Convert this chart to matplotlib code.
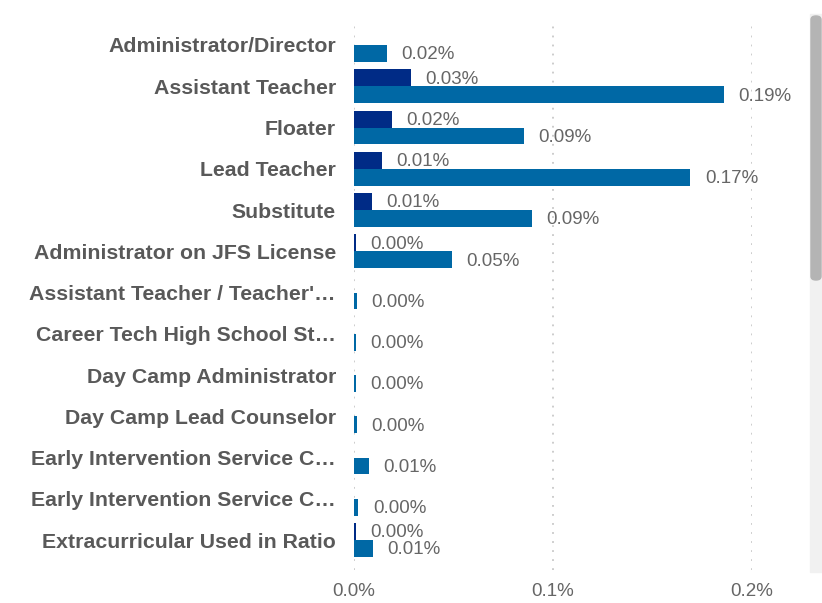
import matplotlib
matplotlib.use("Agg")
import matplotlib.pyplot as plt
import numpy as np
from matplotlib.patches import FancyBboxPatch, Rectangle
from matplotlib.ticker import FuncFormatter

plt.rcParams["font.family"] = ["Liberation Sans", "DejaVu Sans"]

categories = [
    "Administrator/Director",
    "Assistant Teacher",
    "Floater",
    "Lead Teacher",
    "Substitute",
    "Administrator on JFS License",
    "Assistant Teacher / Teacher'\u2026",
    "Career Tech High School St\u2026",
    "Day Camp Administrator",
    "Day Camp Lead Counselor",
    "Early Intervention Service C\u2026",
    "Early Intervention Service C\u2026",
    "Extracurricular Used in Ratio",
]
# values in percent (nan = no bar)
series_dark = [np.nan, 0.0287, 0.019, 0.014, 0.009, 0.0008, np.nan, np.nan,
               np.nan, np.nan, np.nan, np.nan, 0.0008]
series_blue = [0.0166, 0.186, 0.0854, 0.169, 0.0894, 0.049, 0.0015, 0.001,
               0.001, 0.0015, 0.0075, 0.0022, 0.0095]

dark_color = "#002b86"
blue_color = "#0068a5"
label_color = "#666666"
cat_color = "#595959"

W, H = 822, 603
fig = plt.figure(figsize=(W / 100, H / 100), dpi=100)
ax = fig.add_axes([354 / W, 1 - 570 / H, 398 / W, 550 / H])

y = np.arange(len(categories))
bh = 0.41
ax.barh(y - bh / 2, series_dark, height=bh, color=dark_color)
ax.barh(y + bh / 2, series_blue, height=bh, color=blue_color)

ax.set_xlim(0, 0.2)
ax.set_ylim(12.727, -0.606)

for vals, off in [(series_dark, -bh / 2), (series_blue, bh / 2)]:
    for i, v in enumerate(vals):
        if np.isnan(v):
            continue
        ax.annotate(f"{v:.2f}%", (v, i + off), xytext=(10.5, -1),
                    textcoords="offset points", ha="left", va="center",
                    fontsize=13.5, color=label_color, annotation_clip=False)

ax.set_xticks([0, 0.1, 0.2])
ax.xaxis.set_major_formatter(FuncFormatter(lambda v, p: f"{v:.1f}%"))
ax.tick_params(axis="x", length=0, pad=9, labelsize=13.5, labelcolor=label_color)
ax.grid(axis="x", linestyle=(0, (1, 4)), color="#c8c8c8", linewidth=1.3)
ax.set_axisbelow(True)

ax.set_yticks(y)
ax.set_yticklabels(categories, fontsize=15.3, fontweight="bold", color=cat_color)
ax.tick_params(axis="y", length=0, pad=13)

for s in ax.spines.values():
    s.set_visible(False)

# scrollbar on the right
fig.patches.append(Rectangle((810 / W, 1 - 572 / H), 12 / W, 558 / H,
                             transform=fig.transFigure, color="#f1f1f1",
                             zorder=0))
fig.patches.append(FancyBboxPatch((811 / W, 1 - 280 / H), 10 / W, 264 / H,
                                  boxstyle="round,pad=0,rounding_size=0.006",
                                  transform=fig.transFigure, color="#b4b4b4",
                                  zorder=1))

fig.savefig("out.png", dpi=100)
